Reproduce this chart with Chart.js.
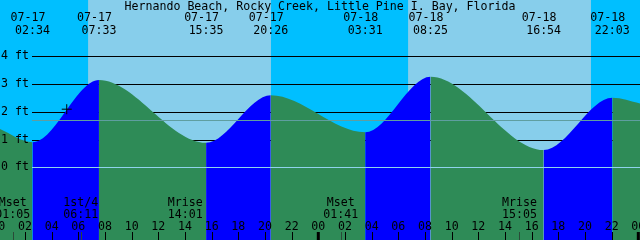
<!DOCTYPE html>
<html>
<head>
<meta charset="utf-8">
<script src="https://cdn.jsdelivr.net/npm/chart.js@4.4.1/dist/chart.umd.min.js"></script>
<style>
  html, body { margin: 0; padding: 0; background: #87ceeb; }
  #wrap { width: 640px; height: 240px; }
</style>
</head>
<body>
<div id="wrap"><canvas id="tideChart" width="640" height="240"></canvas></div>
<script>
// Tide highs and lows
const tideDates = ['07-17', '07-17', '07-17', '07-17', '07-18', '07-18', '07-18', '07-18'];
const tideClock = ['02:34', '07:33', '15:35', '20:26', '03:31', '08:25', '16:54', '22:03'];
const tideFeet = [0.90, 3.14, 0.88, 2.59, 1.26, 3.26, 0.62, 2.50];
// water level where the curve leaves the left and right edges
const edgeHours = [0, 48.2];
const edgeFeet = [1.40, 2.29];

const moonNames = ['Mset', '1st/4', 'Mrise', 'Mset', 'Mrise'];
const moonDates = ['07-17', '07-17', '07-17', '07-18', '07-18'];
const moonClock = ['01:05', '06:11', '14:01', '01:41', '15:05'];

// sunrise, sunset, sunrise, sunset
const sunDates = ['07-17', '07-17', '07-18', '07-18'];
const sunClock = ['06:44', '20:27', '06:44', '20:27'];

const hourLabels = ['00', '02', '04', '06', '08', '10', '12', '14', '16', '18', '20', '22'];
const ftLevels = [0, 1, 2, 3, 4];
const meanLevel = 1.70;
const nowMark = { date: '07-17', clock: '05:08', ft: 2.09 };

const title = 'Hernando Beach, Rocky Creek, Little Pine I. Bay, Florida';

const NIGHT = '#00bfff';
const DAY = '#87ceeb';
const RISING = '#0000ff';
const FALLING = '#2e8b57';
const FONT = '11.6px "DejaVu Sans Mono", monospace';

// hours since 07-17 00:00
function toHours(date, clock) {
    const day = parseInt(date.slice(3), 10) - 17;
    const [h, m] = clock.split(':').map(Number);
    return day * 24 + h + m / 60;
}

const tidePoints = tideClock.map((c, i) => ({ x: toHours(tideDates[i], c), y: tideFeet[i] }));
tidePoints.unshift({ x: edgeHours[0], y: edgeFeet[0] });
tidePoints.push({ x: edgeHours[1], y: edgeFeet[1] });

const backgroundPlugin = {
    id: 'dayNight',
    beforeDraw(chart) {
        const { ctx, scales: { x } } = chart;
        ctx.save();
        ctx.fillStyle = NIGHT;
        ctx.fillRect(0, 0, chart.width, chart.height);
        ctx.fillStyle = DAY;
        for (let i = 0; i < sunClock.length; i += 2) {
            const a = x.getPixelForValue(toHours(sunDates[i], sunClock[i]));
            const b = x.getPixelForValue(toHours(sunDates[i + 1], sunClock[i + 1]));
            ctx.fillRect(a, 0, b - a, chart.height);
        }
        ctx.restore();
    },
    beforeDatasetsDraw(chart) {
        const { ctx, scales: { y } } = chart;
        ctx.save();
        ctx.strokeStyle = '#000';
        ctx.lineWidth = 1;
        ftLevels.forEach(v => {
            if (v === 0) return;
            const py = Math.round(y.getPixelForValue(v)) + 0.5;
            ctx.beginPath();
            ctx.moveTo(32, py);
            ctx.lineTo(chart.width, py);
            ctx.stroke();
        });
        ctx.restore();
    },
    afterDatasetsDraw(chart) {
        const { ctx, scales: { x, y } } = chart;
        ctx.save();
        ctx.lineWidth = 1;

        // zero line and mean level drawn over the water
        let py = Math.round(y.getPixelForValue(0)) + 0.5;
        ctx.strokeStyle = '#8fd3ec';
        ctx.beginPath(); ctx.moveTo(32, py); ctx.lineTo(chart.width, py); ctx.stroke();
        py = Math.round(y.getPixelForValue(meanLevel)) + 0.5;
        ctx.strokeStyle = '#5f9ea0';
        ctx.beginPath(); ctx.moveTo(32, py); ctx.lineTo(chart.width, py); ctx.stroke();

        ctx.font = FONT;
        ctx.fillStyle = '#000';
        ctx.textBaseline = 'alphabetic';

        // title
        ctx.textAlign = 'center';
        ctx.fillText(title, 320, 9.5);

        // ft labels
        ctx.textAlign = 'left';
        ftLevels.forEach(v => {
            ctx.fillText(v + ' ft', 1, Math.round(y.getPixelForValue(v)) + 3);
        });

        // high / low times
        ctx.textAlign = 'center';
        tideClock.forEach((c, i) => {
            const px = x.getPixelForValue(toHours(tideDates[i], c));
            ctx.fillText(tideDates[i], px - 4.5, 21);
            ctx.fillText(c, px, 34);
        });

        // moon events
        moonClock.forEach((c, i) => {
            const px = x.getPixelForValue(toHours(moonDates[i], c));
            ctx.fillText(moonNames[i], px, 206);
            ctx.fillText(c, px, 218);
            ctx.strokeStyle = '#2a4a38';
            ctx.beginPath();
            ctx.moveTo(Math.round(px) + 0.5, 232);
            ctx.lineTo(Math.round(px) + 0.5, 240);
            ctx.stroke();
        });

        // hour axis
        ctx.strokeStyle = '#000';
        for (let day = 0; day <= 2; day++) {
            hourLabels.forEach((lab, j) => {
                const h = day * 24 + j * 2;
                if (h > 48) return;
                const px = x.getPixelForValue(h);
                ctx.fillText(lab, px, 229.5);
                ctx.lineWidth = j === 0 ? 3 : 1;
                const lx = j === 0 ? px : Math.round(px) + 0.5;
                ctx.beginPath();
                ctx.moveTo(lx, 232);
                ctx.lineTo(lx, 240);
                ctx.stroke();
            });
        }
        ctx.restore();
    }
};

new Chart(document.getElementById('tideChart'), {
    type: 'line',
    data: {
        datasets: [{
            label: 'now',
            type: 'scatter',
            data: [{ x: toHours(nowMark.date, nowMark.clock), y: nowMark.ft }],
            pointStyle: 'cross',
            pointRadius: 5,
            pointBorderWidth: 1,
            pointBorderColor: '#000',
            order: 0
        }, {
            label: 'Tide',
            data: tidePoints,
            cubicInterpolationMode: 'monotone',
            fill: 'start',
            backgroundColor: FALLING,
            borderColor: 'rgba(0,0,0,0)',
            borderWidth: 0,
            pointRadius: 0,
            segment: {
                backgroundColor: c => c.p1.parsed.y > c.p0.parsed.y ? RISING : FALLING
            },
            order: 1
        }]
    },
    options: {
        responsive: false,
        animation: false,
        events: [],
        layout: { padding: 0, autoPadding: false },
        scales: {
            x: { type: 'linear', display: false, min: 0.1275, max: 48.1275 },
            y: { display: false, min: -2.615, max: 6.018 }
        },
        plugins: {
            legend: { display: false },
            tooltip: { enabled: false }
        }
    },
    plugins: [backgroundPlugin]
});
</script>
</body>
</html>
